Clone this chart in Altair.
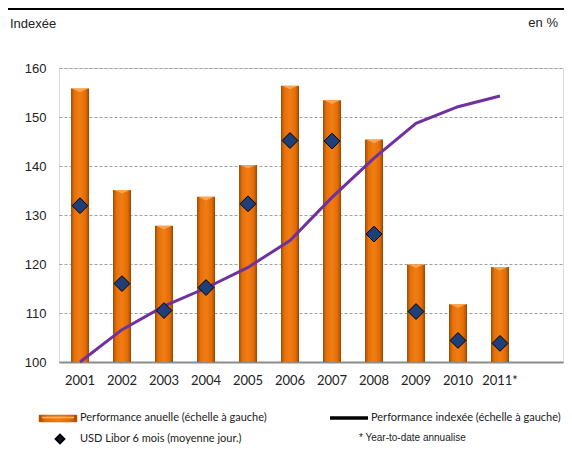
import altair as alt
import pandas as pd

years = ["2001", "2002", "2003", "2004", "2005", "2006", "2007", "2008", "2009", "2010", "2011*"]
perf_annuelle = [155.8, 135.1, 127.8, 133.7, 140.2, 156.4, 153.4, 145.4, 119.9, 111.8, 119.4]
perf_indexee = [100.0, 106.6, 111.4, 115.1, 119.3, 124.8, 133.6, 141.6, 148.7, 152.1, 154.3]
libor = [131.9, 116.0, 110.5, 115.2, 132.3, 145.2, 145.1, 126.1, 110.3, 104.4, 103.8]
y_ticks = [100, 110, 120, 130, 140, 150, 160]
pad_cat = "pad"

df = pd.DataFrame({"year": years, "annuelle": perf_annuelle,
                   "indexee": perf_indexee, "libor": libor, "base": 100})

x_dom = years + [pad_cat]
xs = alt.Scale(domain=x_dom, paddingInner=0, paddingOuter=0)
ys = alt.Scale(domain=[100, 160], zero=False, nice=False)

X = alt.X("year:N", scale=xs, sort=x_dom,
          axis=alt.Axis(title=None, labelAngle=0, ticks=False, labelPadding=12,
                        labelFont="Lato", labelFontSize=13, labelColor="#222",
                        domainColor="#8c8c8c", domainWidth=2,
                        labelExpr=f"datum.value == '{pad_cat}' ? '' : datum.value"))

base = alt.Chart(df)

grad = alt.Gradient(gradient="linear", x1=0, x2=1, y1=0, y2=0,
                    stops=[alt.GradientStop(color="#a24a00", offset=0),
                           alt.GradientStop(color="#e3700b", offset=0.18),
                           alt.GradientStop(color="#f27d12", offset=0.5),
                           alt.GradientStop(color="#e06c08", offset=0.82),
                           alt.GradientStop(color="#9a4600", offset=1)])

bars = base.mark_bar(size=18, color=grad).encode(
    x=X,
    y=alt.Y("annuelle:Q", scale=ys,
            axis=alt.Axis(title=None, values=y_ticks, ticks=False, domain=False,
                          labelPadding=13, labelFont="Liberation Sans", labelFontSize=13,
                          labelColor="#222", gridDash=[3, 2], gridColor="#a0a0a0",
                          gridWidth=1)),
    y2=alt.Y2("base:Q"),
)

caps = base.mark_point(shape="M-1,0 L1,0 L0,0.45 Z", filled=True, size=256,
                       color="#fba95a", opacity=0.9).encode(
    x=X, y=alt.Y("annuelle:Q", scale=ys))

line = base.mark_line(color="#7030a0", strokeWidth=3).encode(
    x=X, y=alt.Y("indexee:Q", scale=ys))

dots = base.mark_point(shape="diamond", filled=True, size=250, fill="#1f3f7a",
                       stroke="#000", strokeWidth=1, opacity=1).encode(
    x=X, y=alt.Y("libor:Q", scale=ys))

one = pd.DataFrame({"k": [0]})
ann = alt.Chart(one)

def txt(s, x, y, font="Liberation Sans", size=13, align="left"):
    return ann.mark_text(text=s, font=font, fontSize=size, align=align,
                         baseline="middle", color="#222").encode(
        x=alt.value(x), y=alt.value(y))

top_line = ann.mark_rect(color="#000").encode(
    x=alt.value(-51), x2=alt.value(505), y=alt.value(-60), y2=alt.value(-58))

sw_bar = ann.mark_rect(color=grad, stroke="#c86000", strokeWidth=0.5).encode(
    x=alt.value(-20), x2=alt.value(18), y=alt.value(347), y2=alt.value(354))
sw_bar_hi = ann.mark_rule(color="#fcb46c", strokeWidth=1.5).encode(
    x=alt.value(-17), x2=alt.value(15), y=alt.value(349.5))
sw_line = ann.mark_rule(color="#000", strokeWidth=3.5).encode(
    x=alt.value(271), x2=alt.value(309), y=alt.value(350))
sw_dot = ann.mark_point(shape="diamond", filled=True, size=75, fill="#0b1a33",
                        stroke="#000", opacity=1).encode(
    x=alt.value(1), y=alt.value(371))

chart = alt.layer(
    bars, caps, line, dots,
    top_line,
    txt("Indexée", -49, -44),
    txt("en %", 499, -45, align="right"),
    sw_bar, sw_bar_hi, sw_line, sw_dot,
    txt("Performance anuelle (échelle à gauche)", 21, 350, font="Lato", size=11),
    txt("Performance indexée (échelle à gauche)", 312, 350, font="Lato", size=11),
    txt("USD Libor 6 mois (moyenne jour.)", 21, 371, font="Lato", size=11),
    txt("* Year-to-date annualise", 300, 370, size=10),
).properties(
    width=504, height=294,
    autosize=alt.AutoSizeParams(type="none"),
    padding={"left": 51, "top": 60, "right": 1, "bottom": 85},
).configure_view(stroke=None).configure(background="white")

chart.save("out.html", embed_options={"renderer": "svg", "actions": False})
